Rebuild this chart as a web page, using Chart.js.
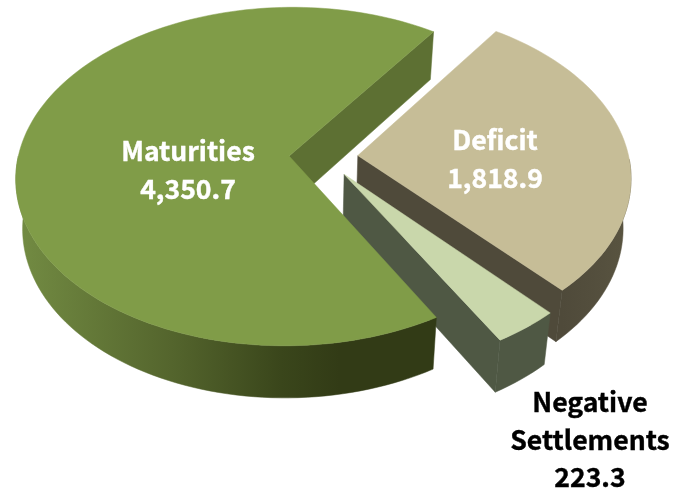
<!DOCTYPE html>
<html>
<head>
<meta charset="utf-8">
<title>Pie</title>
<script src="https://cdn.jsdelivr.net/npm/chart.js@4"></script>
<style>
    html, body { margin: 0; padding: 0; background: #fff; }
    canvas { display: block; }
</style>
</head>
<body>
<canvas id="myChart" width="673" height="488"></canvas>
<script>
// data, clockwise from the first slice
const categories = ["Deficit", "Negative Settlements", "Maturities"];
const values = [1818.9, 223.3, 4350.7];
const valueLabels = ["1,818.9", "223.3", "4,350.7"];

// colours per slice
const faceColors = ["#c6bd97", "#c9d7ab", "#809c48"];
const radialWallColors = ["#4f4a3a", "#4f5844", "#5d7033"];
const outerWallStops = [
    [[0, "#4f4a3a"], [0.6, "#55503e"], [1, "#5a5541"]],
    [[0, "#4f5844"], [1, "#4f5844"]],
    [[0, "#738c43"], [0.37, "#54652d"], [0.63, "#3a461b"], [0.77, "#323b16"], [1, "#323b16"]]
];

// label lines and where they sit
const labelLines = [
    [categories[0], valueLabels[0]],
    ["Negative", "Settlements", valueLabels[1]],
    [categories[2], valueLabels[2]]
];
const labelColors = ["#ffffff", "#000000", "#ffffff"];
const labelAnchors = [[495, 140], [590, 402], [188, 151]];
const labelLineHeight = 37.5;

// camera for the tilted pie
const view = {
    cx: 323.5, cy: 157,
    radiusX: 271, radiusY: 167,
    perspective: 0.121,
    explode: 0.127,
    depth: 49.5,
    depthGrow: 19,
    vanishX: 300,
    shrink: 0.976
};

function project(x, y) {
    const s = 1 / (1 - view.perspective * y);
    return {
        x: view.cx + view.radiusX * x * s,
        y: view.cy + view.radiusY * y * s,
        s: s
    };
}

// same point at the bottom of the slab
function drop(p) {
    return {
        x: view.vanishX + (p.x - view.vanishX) * view.shrink,
        y: p.y + view.depth + view.depthGrow * (p.s - 1)
    };
}

function fillPath(ctx, points, fill) {
    ctx.beginPath();
    points.forEach((p, i) => {
        if (i === 0) ctx.moveTo(p.x, p.y);
        else ctx.lineTo(p.x, p.y);
    });
    ctx.closePath();
    ctx.fillStyle = fill;
    ctx.strokeStyle = fill;
    ctx.lineWidth = 0.5;
    ctx.fill();
    ctx.stroke();
}

function drawSlice(ctx, arc, index) {
    const mid = (arc.startAngle + arc.endAngle) / 2;
    const ox = Math.cos(mid) * view.explode;
    const oy = Math.sin(mid) * view.explode;
    const tip = project(ox, oy);
    const rim = [];
    const frontRim = [];
    const steps = Math.ceil((arc.endAngle - arc.startAngle) / 0.03);
    for (let i = 0; i <= steps; i++) {
        const a = arc.startAngle + (arc.endAngle - arc.startAngle) * i / steps;
        const p = project(ox + Math.cos(a), oy + Math.sin(a));
        rim.push(p);
        if (Math.sin(a) > 0) frontRim.push(p);
    }

    // outer wall, only the part facing the viewer
    const xs = frontRim.map(p => p.x);
    const gradient = ctx.createLinearGradient(Math.min(...xs), 0, Math.max(...xs), 0);
    outerWallStops[index].forEach(stop => gradient.addColorStop(stop[0], stop[1]));
    fillPath(ctx, frontRim.concat(frontRim.map(drop).reverse()), gradient);

    // cut sides that face the viewer
    if (Math.cos(arc.startAngle) < 0) {
        const corner = rim[0];
        fillPath(ctx, [tip, corner, drop(corner), drop(tip)], radialWallColors[index]);
    }
    if (Math.cos(arc.endAngle) > 0) {
        const corner = rim[rim.length - 1];
        fillPath(ctx, [tip, corner, drop(corner), drop(tip)], radialWallColors[index]);
    }

    // top
    fillPath(ctx, [tip].concat(rim), arc.options.backgroundColor);
}

const pie3d = {
    id: "pie3d",
    beforeDatasetsDraw(chart) {
        const ctx = chart.ctx;
        ctx.save();
        chart.getDatasetMeta(0).data.forEach((arc, i) => drawSlice(ctx, arc, i));
        ctx.restore();
        return false; // flat arcs are not drawn
    },
    afterDraw(chart) {
        const ctx = chart.ctx;
        ctx.save();
        ctx.font = 'bold 26.6px "Noto Sans CJK SC"';
        ctx.textAlign = "center";
        ctx.textBaseline = "middle";
        ctx.lineWidth = 0.4;
        labelLines.forEach((lines, i) => {
            ctx.fillStyle = labelColors[i];
            ctx.strokeStyle = labelColors[i];
            lines.forEach((line, n) => {
                const y = labelAnchors[i][1] + n * labelLineHeight;
                ctx.fillText(line, labelAnchors[i][0], y);
                ctx.strokeText(line, labelAnchors[i][0], y);
            });
        });
        ctx.restore();
    }
};

new Chart(document.getElementById("myChart"), {
    type: "pie",
    data: {
        labels: categories,
        datasets: [{
            data: values,
            backgroundColor: faceColors,
            borderWidth: 0
        }]
    },
    options: {
        responsive: false,
        animation: false,
        rotation: 35,
        layout: { padding: 0 },
        plugins: {
            legend: { display: false },
            tooltip: { enabled: false }
        }
    },
    plugins: [pie3d]
});
</script>
</body>
</html>
